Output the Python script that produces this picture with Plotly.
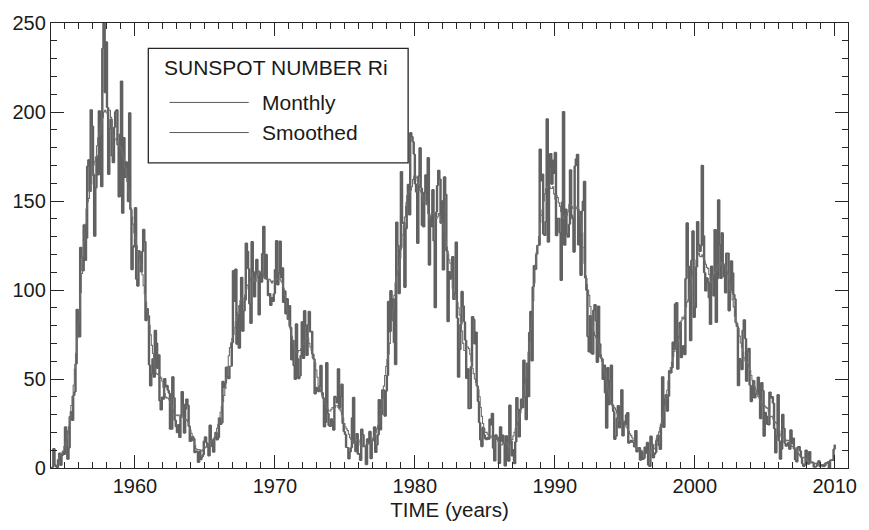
import plotly.graph_objects as go

# International sunspot number Ri, monthly means from January 1954
START_YEAR = 1954
monthly_ri = [
    0.2, 0.5, 10.9, 1.8, 0.8, 0.2, 4.8, 8.4, 1.5, 7.0, 9.2, 7.6,
    23.1, 20.8, 4.9, 11.3, 28.9, 31.7, 26.7, 40.7, 42.7, 58.5, 89.2, 76.9,
    73.6, 124.0, 118.4, 110.7, 136.6, 116.6, 129.1, 169.6, 173.2, 155.3, 201.3, 192.1,
    165.0, 130.2, 157.4, 175.2, 164.6, 200.7, 187.2, 158.0, 235.8, 253.8, 210.9, 239.4,
    202.5, 164.9, 190.7, 196.0, 175.3, 171.5, 191.4, 200.2, 201.2, 181.5, 152.3, 187.6,
    217.4, 143.1, 185.7, 163.3, 172.0, 168.7, 149.6, 199.6, 145.2, 111.4, 124.0, 125.0,
    146.3, 106.0, 102.2, 122.0, 119.6, 110.2, 121.7, 134.1, 127.2, 82.8, 89.6, 85.6,
    57.9, 46.1, 53.0, 61.4, 51.0, 77.4, 70.2, 55.9, 63.6, 37.7, 32.6, 39.9,
    38.7, 50.3, 45.6, 46.4, 43.7, 42.0, 21.8, 21.8, 51.3, 39.5, 26.9, 23.2,
    19.8, 24.4, 17.1, 29.3, 43.0, 35.9, 19.6, 33.2, 38.8, 35.3, 23.4, 14.9,
    15.3, 17.7, 16.5, 8.6, 9.5, 9.1, 3.1, 9.3, 4.7, 6.1, 7.4, 15.1,
    17.5, 14.2, 11.7, 6.8, 24.1, 15.9, 11.9, 8.9, 16.8, 20.1, 15.8, 17.0,
    28.2, 24.4, 25.3, 48.7, 45.3, 47.7, 56.7, 51.2, 50.2, 57.2, 57.2, 70.4,
    110.9, 93.6, 111.8, 69.5, 86.5, 67.3, 91.5, 107.2, 76.8, 88.2, 94.3, 126.4,
    121.8, 111.9, 92.2, 81.2, 127.2, 110.3, 96.1, 109.3, 117.2, 107.7, 86.0, 109.8,
    104.4, 120.5, 135.8, 106.8, 120.0, 106.0, 96.8, 98.0, 91.3, 95.7, 93.5, 97.9,
    111.5, 127.8, 102.9, 109.5, 127.5, 106.8, 112.5, 93.0, 99.5, 86.6, 95.2, 83.5,
    91.3, 79.0, 60.7, 71.8, 57.5, 49.8, 81.0, 61.4, 50.2, 51.7, 63.2, 82.2,
    61.5, 88.4, 80.1, 63.2, 80.5, 88.0, 76.5, 76.8, 64.0, 61.3, 41.6, 45.3,
    43.4, 42.9, 46.0, 57.7, 42.4, 39.5, 23.1, 25.6, 59.3, 30.7, 23.9, 23.3,
    27.6, 26.0, 21.3, 40.3, 39.5, 36.6, 55.8, 33.6, 40.2, 47.1, 25.0, 20.5,
    18.9, 11.5, 11.5, 5.1, 9.0, 11.4, 28.2, 39.7, 13.9, 9.1, 19.4, 7.8,
    8.1, 4.3, 21.9, 18.8, 12.4, 12.2, 1.9, 16.4, 13.5, 20.6, 5.2, 15.3,
    16.4, 23.1, 8.7, 12.9, 18.6, 38.5, 21.4, 30.1, 44.0, 43.8, 29.1, 43.2,
    51.9, 93.6, 76.5, 99.7, 82.7, 95.1, 70.4, 58.1, 138.2, 125.1, 97.9, 122.7,
    166.6, 137.5, 138.0, 101.5, 134.4, 149.5, 159.4, 142.2, 188.4, 186.2, 183.3, 176.3,
    159.6, 155.0, 126.2, 164.1, 179.9, 157.3, 136.3, 135.4, 155.0, 164.7, 147.9, 174.4,
    114.0, 141.3, 135.5, 156.4, 127.5, 90.0, 143.8, 158.7, 167.3, 162.4, 137.5, 150.1,
    111.2, 163.6, 153.8, 122.0, 82.2, 110.4, 106.1, 107.6, 118.8, 94.7, 98.1, 127.0,
    84.3, 51.0, 66.5, 80.7, 99.2, 91.1, 82.2, 71.8, 50.3, 55.8, 33.3, 33.4,
    57.0, 85.1, 83.5, 69.7, 76.4, 46.1, 37.4, 25.5, 15.7, 12.0, 22.8, 18.7,
    16.5, 15.9, 17.2, 16.2, 27.5, 24.2, 30.7, 11.1, 3.9, 18.6, 16.2, 17.3,
    2.5, 23.2, 15.1, 18.5, 13.7, 1.1, 18.1, 7.4, 3.8, 35.4, 15.2, 6.8,
    10.4, 2.4, 14.7, 39.6, 33.0, 17.4, 33.0, 38.7, 33.9, 60.6, 39.9, 27.1,
    59.0, 40.0, 76.2, 88.0, 60.1, 101.8, 113.8, 111.6, 120.1, 125.1, 125.1, 179.2,
    161.3, 165.1, 131.4, 130.6, 138.5, 196.2, 126.9, 168.9, 176.7, 159.4, 173.0, 165.5,
    177.3, 130.5, 140.3, 140.3, 132.2, 105.4, 149.4, 200.3, 125.2, 145.5, 131.4, 129.7,
    136.9, 167.5, 141.9, 140.0, 121.3, 169.7, 173.7, 176.3, 125.3, 144.1, 108.2, 144.4,
    150.0, 161.1, 106.7, 99.8, 73.8, 65.2, 85.7, 64.5, 63.9, 88.7, 91.8, 82.6,
    59.3, 91.0, 69.8, 62.2, 61.3, 49.8, 57.9, 42.2, 22.4, 56.4, 35.6, 48.9,
    57.8, 35.5, 31.7, 16.1, 17.8, 28.0, 35.1, 22.5, 25.7, 44.0, 18.0, 26.2,
    24.2, 29.9, 31.1, 14.0, 14.5, 15.6, 14.5, 14.3, 11.8, 21.1, 9.0, 10.0,
    11.5, 4.4, 9.2, 4.8, 5.5, 11.8, 8.2, 14.4, 1.6, 0.9, 17.9, 13.3,
    5.7, 7.6, 8.7, 15.5, 18.5, 12.7, 10.4, 24.4, 51.3, 22.8, 39.0, 41.2,
    31.9, 40.3, 54.8, 53.4, 56.3, 70.7, 66.6, 92.2, 92.9, 55.5, 74.0, 81.9,
    62.0, 66.3, 68.8, 63.7, 106.4, 137.7, 113.5, 93.7, 71.5, 116.7, 133.2, 84.6,
    90.1, 112.9, 138.5, 125.5, 121.6, 124.9, 170.1, 130.5, 109.7, 99.4, 106.8, 104.4,
    95.6, 80.6, 113.5, 107.7, 96.6, 134.0, 81.8, 106.4, 150.7, 125.5, 106.5, 132.2,
    114.1, 107.4, 98.4, 120.7, 120.8, 88.3, 99.6, 116.4, 109.6, 97.5, 95.0, 81.6,
    79.5, 46.2, 61.5, 60.0, 55.2, 77.4, 83.3, 72.7, 48.7, 65.5, 67.3, 46.5,
    37.3, 45.8, 49.1, 39.3, 41.5, 43.2, 51.1, 40.9, 27.7, 48.0, 43.5, 17.9,
    31.3, 29.2, 24.5, 24.2, 42.7, 39.3, 40.1, 36.4, 22.1, 8.5, 18.0, 41.2,
    15.3, 4.9, 10.6, 30.2, 22.3, 13.9, 12.2, 12.9, 14.4, 10.5, 21.4, 13.6,
    16.8, 10.7, 4.5, 3.4, 11.7, 12.1, 9.7, 6.0, 2.4, 0.9, 1.7, 10.1,
    3.3, 2.1, 9.3, 2.9, 2.9, 3.1, 0.5, 0.5, 1.1, 2.9, 4.1, 0.8,
    1.5, 1.4, 0.7, 1.2, 2.9, 2.6, 3.5, 0.0, 4.4, 4.6, 4.2, 10.6,
    13.1,
]

# 13-month smoothed Ri, from July 1954 (one row per July-June span)
SMOOTH_START_YEAR = 1954.5
smoothed_ri = [
    5.4, 7.2, 7.8, 7.9, 9.5, 12, 14.2, 16.4, 19.5, 23.4, 28.8, 35.1,
    40.1, 46.5, 55.5, 64.4, 73, 81, 88.8, 98.5, 109.3, 118.7, 127.4, 136.9,
    145.5, 149.6, 151.5, 155.8, 159.6, 164.3, 170.2, 172.2, 174.3, 181, 185.5, 187.9,
    191, 194, 197, 200, 201, 200, 199, 201, 201, 197, 191, 187,
    185, 185, 184, 182, 181, 180, 179, 177, 174, 169, 165, 161,
    156, 151, 146, 141, 137, 132, 129, 125, 122, 120, 117, 114,
    108.6, 102.4, 97.9, 93.3, 87.9, 83.7, 80.2, 74.8, 68.9, 64.3, 60.1, 55.8,
    53.1, 52.5, 52.3, 51.4, 50.5, 48.7, 45.2, 41.8, 39.8, 39.4, 39.2, 38.3,
    36.8, 34.9, 32.7, 30.8, 30, 29.8, 29.4, 29.8, 29.7, 29, 28.7, 28.2,
    27.7, 27.2, 26.9, 26, 23.8, 21.3, 19.5, 17.8, 15.4, 12.7, 10.8, 10.2,
    10.3, 10.2, 9.9, 9.6, 10.2, 11, 11.7, 12, 12.5, 13.6, 14.5, 15,
    15.5, 16.4, 17.4, 19.7, 22.3, 24.5, 27.7, 31.3, 34.5, 37.4, 40.7, 44.7,
    50.3, 56.7, 63.1, 67.6, 70.2, 72.7, 75, 78.8, 82.2, 84.6, 87.5, 91.3,
    94.1, 95.3, 95.3, 95, 97.1, 100.6, 102.6, 102.9, 104.7, 107.2, 107.6, 106.6,
    105.2, 104.8, 107, 109.9, 110.6, 110.1, 110, 109.6, 108, 106.4, 106.2, 106.1,
    106, 106, 105, 104, 105, 105, 106, 106, 106, 106, 106, 105,
    104, 101, 97, 94, 89, 84, 80, 78, 74, 71, 68, 67,
    65, 65, 66, 66, 67, 69, 71, 71, 72, 73, 73, 70,
    68, 66, 62, 61, 59, 55, 51, 46, 44, 43, 41, 39,
    38, 36, 34, 33, 32, 32, 33, 34, 34, 34, 35, 35,
    34, 33, 32, 30, 28, 25, 23, 22, 21, 19, 17, 16,
    15, 14, 14, 15, 16, 16, 15, 13, 12, 13, 12, 12,
    13, 14, 14, 14, 14, 15, 17, 18, 20, 22, 24, 26,
    29, 33, 39, 46, 52, 57, 61, 64, 70, 77, 83, 89,
    97, 104, 108, 111, 113, 118, 124, 131, 136, 141, 147, 153,
    155, 155, 156, 158, 162, 164, 164, 163, 161, 159, 156, 155,
    153, 150, 150, 150, 148, 143, 140, 142, 143, 143, 143, 141,
    140, 141, 143, 142, 139, 138, 137, 133, 129, 124, 120, 117,
    115, 109, 101, 96, 95, 95, 93, 90, 86, 82, 77, 70,
    66, 66, 68, 68, 67, 64, 60, 56, 53, 50, 48, 46,
    44, 40, 34, 29, 25, 22, 20, 20, 19, 18, 18, 18,
    17, 17, 17, 17, 17, 15, 14, 13, 13, 14, 14, 14,
    14, 13, 12, 13, 15, 16, 18, 20, 22, 24, 26, 28,
    31, 35, 39, 44, 47, 51, 58, 65, 71, 78, 84, 94,
    104, 114, 121, 125, 130, 138, 142, 145, 150, 154, 157, 158,
    158, 158, 157, 157, 158, 154, 151, 153, 152, 149, 147, 144,
    141, 140, 142, 142, 142, 144, 148, 148, 147, 146, 146, 145,
    146, 147, 145, 142, 138, 132, 124, 115, 108, 103, 100, 97,
    90.7, 84, 79.5, 76.4, 74.4, 73.2, 71.4, 69.3, 66.6, 63.6, 59.9, 56.1,
    54.7, 52.3, 48.4, 44.9, 41.2, 38.4, 36.6, 34.8, 34.1, 33.7, 32.5, 30.8,
    28.5, 26.8, 26.6, 26.5, 26.2, 25.6, 24.2, 23, 22.1, 20.6, 19.2, 18.2,
    17, 15.4, 13.4, 12.1, 11.3, 10.8, 10.4, 10.1, 9.7, 8.5, 8, 8.5,
    8.4, 8.3, 8.4, 8.8, 9.8, 10.4, 10.5, 11, 13.5, 16.5, 18.3, 20.3,
    22.6, 25, 28.3, 31.8, 35, 39, 43.7, 48.9, 53.4, 56.5, 59.4, 62.5,
    65.5, 67.8, 69.5, 70.5, 73, 77.9, 82.6, 84.6, 83.8, 85.5, 90.5, 93.1,
    94.3, 97.5, 102.3, 107.8, 111, 111.1, 112.9, 116.8, 119.9, 120.8, 119, 118.7,
    119.8, 118.6, 116.3, 114.5, 112.7, 112, 108.7, 104, 104.7, 107.5, 108.6, 109.8,
    111.7, 113.6, 114.1, 114, 115.5, 114.6, 113.5, 114.6, 113.3, 110.5, 108.8, 106.2,
    102.7, 98.7, 94.6, 90.5, 85.3, 82.1, 80.9, 78.4, 74.1, 70.2, 67.7, 65.1,
    61.9, 60.1, 59.6, 58.2, 56.8, 54.8, 52, 49.3, 47.1, 45.5, 43.8, 41.6,
    40.2, 39.2, 37.5, 35.9, 35.3, 35.2, 34.6, 33.9, 33.5, 31.6, 28.9, 28.8,
    29.1, 27.4, 25.9, 25.5, 24.9, 23, 20.8, 18.7, 17.4, 17.1, 17.3, 16.3,
    15.2, 15.5, 15.5, 14.2, 12.6, 12.1, 11.9, 11.5, 10.7, 9.8, 8.6, 7.6,
    6.9, 6, 5.9, 6, 5.6, 4.9, 4.2, 3.5, 3.3, 3.3, 3.5, 3.2,
    2.7, 2.6, 2.2, 1.8, 1.7, 1.7, 1.8, 1.9, 2, 2.2, 2.3, 2.7,
    3.6,
]

x_ticks = [1960, 1970, 1980, 1990, 2000, 2010]
y_ticks = [0, 50, 100, 150, 200, 250]

t_monthly = [START_YEAR + i / 12 for i in range(len(monthly_ri))]
t_smoothed = [SMOOTH_START_YEAR + i / 12 for i in range(len(smoothed_ri))]

# Month-to-month jumps of the monthly step curve, stroked heavier than the
# flat monthly levels
jump_x, jump_y = [], []
for i in range(1, len(monthly_ri)):
    jump_x += [t_monthly[i], t_monthly[i], None]
    jump_y += [monthly_ri[i - 1], monthly_ri[i], None]

FONT = "Liberation Sans, Arial, Helvetica, sans-serif"
INK = "#1a1a1a"
AXIS = "#262626"
LINE_MONTHLY = "#616161"
LINE_SMOOTH = "#6e6e6e"

fig = go.Figure()
fig.add_trace(go.Scatter(
    x=t_monthly, y=monthly_ri, mode="lines", line_shape="hv",
    line=dict(color=LINE_MONTHLY, width=1.1), name="Monthly", showlegend=False,
))
fig.add_trace(go.Scatter(
    x=jump_x, y=jump_y, mode="lines", connectgaps=False,
    line=dict(color=LINE_MONTHLY, width=2.4), hoverinfo="skip", showlegend=False,
))
fig.add_trace(go.Scatter(
    x=t_smoothed, y=smoothed_ri, mode="lines", line_shape="hv",
    line=dict(color=LINE_SMOOTH, width=1.1), name="Smoothed", showlegend=False,
))

axis_common = dict(
    showline=True, linecolor=AXIS, linewidth=1.3, mirror="ticks",
    ticks="inside", tickcolor=AXIS, tickwidth=1.3, ticklen=13,
    showgrid=False, zeroline=False,
    tickfont=dict(family=FONT, size=20, color=INK),
)

fig.update_xaxes(
    **axis_common, range=[1954, 2010.95], tickvals=x_ticks,
    minor=dict(dtick=1, tick0=1954, ticks="inside", ticklen=6,
               tickcolor=AXIS, tickwidth=1.2, showgrid=False),
    title=dict(text="TIME (years)", font=dict(family=FONT, size=20.5, color=INK),
               standoff=6),
)
fig.update_yaxes(
    **axis_common, range=[0, 250], tickvals=y_ticks,
    minor=dict(dtick=10, tick0=0, ticks="inside", ticklen=6,
               tickcolor=AXIS, tickwidth=1.2, showgrid=False),
)

# Legend panel drawn in paper coordinates
box = dict(x0=0.1221, x1=0.4481, y0=0.6858, y1=0.9431)
fig.add_shape(type="rect", xref="paper", yref="paper", layer="above",
              line=dict(color=AXIS, width=1.3), fillcolor="white", **box)
legend_rows = [("Monthly", 0.8215), ("Smoothed", 0.7538)]
for label, ypos in legend_rows:
    fig.add_shape(type="line", xref="paper", yref="paper", layer="above",
                  x0=0.1487, x1=0.2481, y0=ypos, y1=ypos,
                  line=dict(color="#5a5a5a", width=1.0))
    fig.add_annotation(xref="paper", yref="paper", x=0.2617, y=ypos,
                       text=label, showarrow=False, xanchor="left",
                       yanchor="middle",
                       font=dict(family=FONT, size=21, color=INK))
fig.add_annotation(xref="paper", yref="paper", x=0.1388, y=0.9011,
                   text="SUNSPOT NUMBER Ri", showarrow=False, xanchor="left",
                   yanchor="middle", font=dict(family=FONT, size=21, color=INK))

fig.update_layout(
    width=869, height=530,
    margin=dict(l=51, r=13, t=17, b=61),
    paper_bgcolor="white", plot_bgcolor="white",
    showlegend=False,
)

fig.write_html("out.html")
